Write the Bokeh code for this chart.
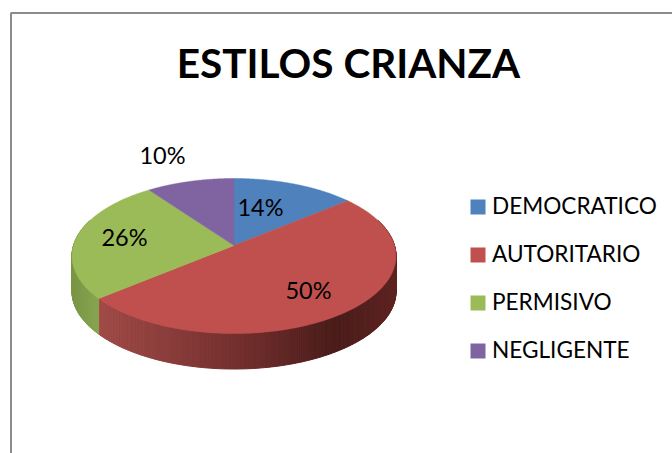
import numpy as np
from bokeh.plotting import figure
from bokeh.models import ColumnDataSource, Range1d
from bokeh.core.properties import value
from bokeh.embed import file_html
from bokeh.resources import INLINE

categories = ["DEMOCRATICO", "AUTORITARIO", "PERMISIVO", "NEGLIGENTE"]
shares = [14, 50, 26, 10]
labels = ["14%", "50%", "26%", "10%"]
title_text = "ESTILOS CRIANZA"

# styles and layout (page pixels)
colors = ["#4F81BD", "#C0504D", "#9BBB59", "#8064A2"]
FONT = "Lato"
CX, CY, AX, BY, K, DEPTH = 233.5, 245.0, 160.5, 76.1, 0.1355, 35.5
label_pos = [(260, 206.5), (308, 289.5), (124, 236.5), (162, 154.5)]
side_stops = {
    0: ([72, 396], [(60, 95, 140), (60, 95, 140)]),
    1: ([98, 234, 335, 396], [(160, 74, 71), (116, 48, 46), (74, 28, 26), (94, 36, 34)]),
    2: ([72, 100], [(122, 150, 70), (136, 166, 80)]),
    3: ([72, 396], [(90, 70, 120), (90, 70, 120)]),
}

W, H = 672, 453
p = figure(width=W, height=H, output_backend="svg", toolbar_location=None,
           x_range=Range1d(0, W), y_range=Range1d(H, 0),
           min_border=0, outline_line_color=None, background_fill_color="white",
           border_fill_color="white", tools="")
p.xaxis.visible = False
p.yaxis.visible = False
p.grid.visible = False


def project(a):
    w = 1 + K * np.cos(a)
    return CX + AX * np.sin(a) / w, CY - BY * np.cos(a) / w


# frame
p.line([W, 10.5, 10.5], [12.5, 12.5, H], line_color="#8C8C8C", line_width=2)

edges = np.cumsum([0] + shares) / sum(shares) * 2 * np.pi

# side wall, built from small strips
xs, ys, cs = [], [], []
for i in range(len(shares)):
    n = max(2, int((edges[i + 1] - edges[i]) / 0.012))
    t = np.linspace(edges[i], edges[i + 1], n + 1)
    px, py = project(t)
    stops_x, stops_c = side_stops[i]
    for j in range(n):
        if np.cos((t[j] + t[j + 1]) / 2) > 0.35:
            continue
        xs.append([px[j], px[j + 1], px[j + 1], px[j]])
        ys.append([py[j], py[j + 1], py[j + 1] + DEPTH, py[j] + DEPTH])
        mx = (px[j] + px[j + 1]) / 2
        c = [np.interp(mx, stops_x, [s[k] for s in stops_c]) for k in range(3)]
        cs.append("#%02x%02x%02x" % tuple(int(round(v)) for v in c))
p.patches("x", "y", source=ColumnDataSource(dict(x=xs, y=ys, c=cs)),
          fill_color="c", line_color="c", line_width=1)

# top surface
tx, ty = [], []
for i in range(len(shares)):
    t = np.linspace(edges[i], edges[i + 1], 160)
    px, py = project(t)
    tx.append([CX] + list(px))
    ty.append([CY] + list(py))
p.patches("x", "y", source=ColumnDataSource(dict(x=tx, y=ty, c=colors)),
          fill_color="c", line_color="c", line_width=0.5)

# percentage labels
p.text(x=[q[0] for q in label_pos], y=[q[1] for q in label_pos], text=labels,
       text_font=value(FONT), text_font_size="23.5px", text_color="#000000",
       text_align="center", text_baseline="middle")

# title
p.text(x=[348], y=[62], text=[title_text], text_font=value(FONT), text_font_style="bold",
       text_font_size="40.5px", text_color="#000000", text_align="center", text_baseline="middle")

# legend
ly = [206.5 + 48 * i for i in range(4)]
p.rect(x=[477.5] * 4, y=ly, width=15, height=15, fill_color=colors, line_color=None)
p.text(x=[491.5] * 4, y=[v - 1.5 for v in ly], text=categories, text_font=value(FONT),
       text_font_size="22.6px", text_color="#000000", text_align="left", text_baseline="middle")

open("out.html", "w").write(file_html(p, INLINE))
